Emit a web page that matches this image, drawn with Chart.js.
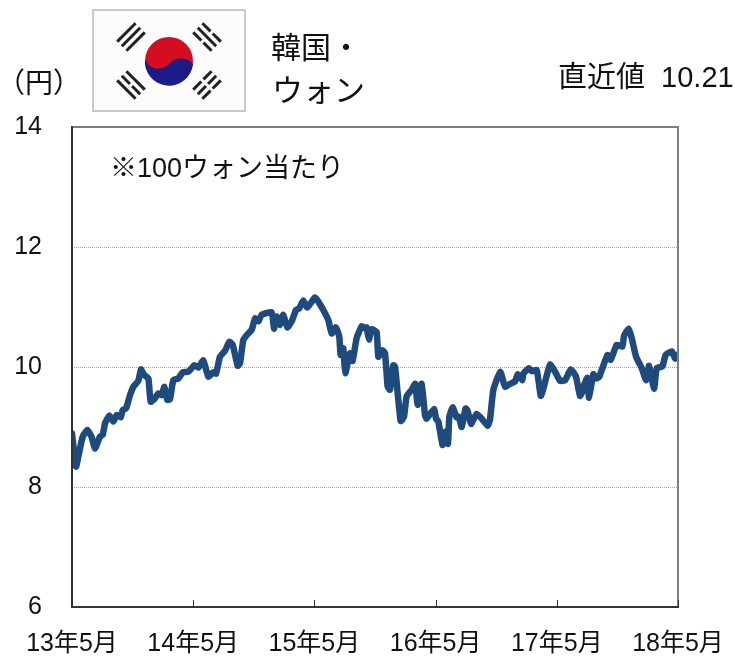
<!DOCTYPE html>
<html lang="ja">
<head>
<meta charset="utf-8">
<script src="https://cdn.jsdelivr.net/npm/chart.js@4"></script>
<style>
  html, body { margin: 0; padding: 0; background: #fff; }
  #wrap { position: relative; width: 735px; height: 657px; overflow: hidden; font-family: "Liberation Sans", "Noto Sans CJK JP", sans-serif; color: #111; }
  #wrap canvas { position: absolute; left: 0; top: 0; }
  .lbl { position: absolute; white-space: pre; line-height: 1; }
  #flag { position: absolute; left: 92px; top: 9px; }
</style>
</head>
<body>
<div id="wrap">
  <canvas id="chart" width="735" height="657"></canvas>
  <svg id="flag" width="154" height="103" viewBox="0 0 154 103">
    <defs><filter id="soft"><feGaussianBlur stdDeviation="0.5"/></filter></defs>
    <rect x="1" y="1" width="152" height="101" fill="#fbfbfb" stroke="#c9c9c9" stroke-width="2"/>
    <g filter="url(#soft)">
      <circle cx="77" cy="52" r="24" fill="#d40f22"/>
      <path d="M53 50 C58 62 70 62 78 54 C85 47 96 48 101 55 A24 24 0 0 1 53 50 Z" fill="#1d1a86"/>
      <g stroke="#222" stroke-width="3" fill="none">
        <g transform="translate(39 28) rotate(-45)"><path d="M-13 -6.5H13M-13 0H13M-13 6.5H13"/></g>
        <g transform="translate(115 28) rotate(45)"><path d="M-13 -6.5H-1.5M1.5 -6.5H13M-13 0H13M-13 6.5H-1.5M1.5 6.5H13"/></g>
        <g transform="translate(39 76) rotate(45)"><path d="M-13 -6.5H13M-13 0H-1.5M1.5 0H13M-13 6.5H13"/></g>
        <g transform="translate(115 76) rotate(-45)"><path d="M-13 -6.5H-1.5M1.5 -6.5H13M-13 0H-1.5M1.5 0H13M-13 6.5H-1.5M1.5 6.5H13"/></g>
      </g>
    </g>
  </svg>
  <div class="lbl" style="left:-3px;top:70px;font-size:28px">（円）</div>
  <div class="lbl" style="left:271px;top:33px;font-size:30px">韓国・</div>
  <div class="lbl" style="left:272px;top:75px;font-size:31px">ウォン</div>
  <div class="lbl" style="left:558px;top:63px;font-size:29px">直近値  10.21</div>
  <div class="lbl" style="left:110px;top:155px;font-size:27px">※100ウォン当たり</div>
</div>
<script>
const FONT = '"Liberation Sans", "Noto Sans CJK JP", sans-serif';

const xTickLabels = ["13年5月", "14年5月", "15年5月", "16年5月", "17年5月", "18年5月"];
const yTickValues = [6, 8, 10, 12, 14];

// months since 13年5月
const months = [
  0, 0.4, 0.63, 1.06, 1.52, 1.95, 2.28, 2.77, 3.04, 3.27, 3.7, 4.09, 4.42, 4.82, 5.02, 5.35,
  5.74, 6.07, 6.57, 6.83, 7.13, 7.56, 7.79, 8.22, 8.55, 8.88, 9.14, 9.44, 9.7, 10.03, 10.53, 10.96,
  11.52, 12.11, 12.51, 13, 13.5, 13.99, 14.26, 14.65, 15.15, 15.58, 15.91, 16.4, 16.63, 16.96, 17.29, 17.79,
  18.12, 18.45, 18.78, 19.77, 20, 20.26, 20.59, 20.92, 21.32, 21.75, 22.18, 22.51, 22.9, 23.3, 24.06, 24.39,
  24.88, 25.38, 25.71, 26.13, 26.46, 26.6, 26.86, 27.06, 27.52, 27.78, 28.18, 28.68, 29, 29.17, 29.4, 29.67,
  30.16, 30.33, 30.72, 30.99, 31.25, 31.48, 31.81, 31.98, 32.54, 32.87, 33.13, 33.63, 33.99, 34.22, 34.62, 34.95,
  35.11, 35.84, 36.04, 36.27, 36.69, 36.93, 37.22, 37.36, 37.69, 38.08, 38.31, 38.58, 38.97, 39.17, 39.5, 40.06,
  40.56, 41.15, 41.38, 41.72, 42.4, 42.88, 43.37, 43.87, 44.13, 44.59, 44.69, 45.25, 45.52, 46.01, 46.41, 46.67,
  47.33, 47.83, 48.32, 48.82, 49.38, 49.9, 50.3, 50.63, 50.7, 51.03, 51.19, 51.62, 51.95, 52.21, 53.01, 53.34,
  53.93, 54.49, 54.66, 55.12, 55.42, 55.85, 56.41, 56.84, 57.13, 57.63, 57.89, 58.45, 58.78, 59.38, 59.71, 60
];
const rates = [
  8.89, 8.34, 8.51, 8.84, 8.95, 8.83, 8.64, 8.84, 8.87, 9.06, 9.19, 9.09, 9.2, 9.16, 9.28, 9.31,
  9.53, 9.67, 9.77, 9.96, 9.87, 9.81, 9.42, 9.48, 9.56, 9.53, 9.67, 9.45, 9.46, 9.78, 9.81, 9.91,
  9.92, 10.03, 9.99, 10.11, 9.84, 9.91, 9.89, 10.17, 10.27, 10.42, 10.37, 10.02, 10.06, 10.45, 10.53, 10.62,
  10.81, 10.76, 10.87, 10.91, 10.64, 10.84, 10.7, 10.87, 10.66, 10.76, 10.95, 10.98, 11.11, 10.99, 11.16, 11.09,
  10.95, 10.78, 10.56, 10.66, 10.51, 10.2, 10.31, 9.9, 10.23, 10.1, 10.48, 10.68, 10.65, 10.66, 10.46, 10.63,
  10.58, 10.17, 10.28, 10.23, 9.68, 9.62, 10.03, 10.01, 9.1, 9.17, 9.51, 9.62, 9.72, 9.37, 9.72, 9.2,
  9.14, 9.3, 9.14, 9.09, 8.7, 8.92, 8.72, 9.17, 9.33, 9.16, 9.17, 9, 9.31, 9.27, 9.05, 9.22,
  9.14, 9.02, 9.12, 9.62, 9.92, 9.67, 9.72, 9.76, 9.88, 9.78, 9.89, 9.98, 9.93, 9.95, 9.52, 9.64,
  10.04, 9.92, 9.77, 9.78, 9.96, 9.84, 9.52, 9.62, 9.7, 9.82, 9.49, 9.88, 9.81, 9.84, 10.2, 10.12,
  10.37, 10.34, 10.52, 10.64, 10.48, 10.17, 9.98, 9.78, 10.02, 9.64, 9.98, 10.01, 10.2, 10.26, 10.14, 10.21
];

// box round the plot and the short inward ticks on the x axis
const framePlugin = {
  id: "frame",
  afterDatasetsDraw(chart) {
    const { ctx, chartArea: a, scales } = chart;
    ctx.save();
    ctx.lineWidth = 2;
    ctx.strokeStyle = "#7f7f7f";
    ctx.beginPath();
    ctx.moveTo(a.left, a.top);
    ctx.lineTo(a.right, a.top);
    ctx.lineTo(a.right, a.bottom);
    ctx.stroke();
    ctx.strokeStyle = "#333";
    ctx.beginPath();
    ctx.moveTo(a.left, a.top - 1);
    ctx.lineTo(a.left, a.bottom);
    ctx.lineTo(a.right + 1, a.bottom);
    ctx.stroke();
    ctx.lineWidth = 1;
    xTickLabels.forEach((_, i) => {
      const x = Math.round(scales.x.getPixelForValue(i * 12)) + 0.5;
      ctx.beginPath();
      ctx.moveTo(x, a.bottom);
      ctx.lineTo(x, a.bottom - 7);
      ctx.stroke();
    });
    ctx.restore();
  },
};

new Chart(document.getElementById("chart").getContext("2d"), {
  type: "line",
  data: {
    datasets: [{
      data: months.map((m, i) => ({ x: m, y: rates[i] })),
      borderColor: "#1f4a7e",
      borderWidth: 6.5,
      borderJoinStyle: "round",
      borderCapStyle: "round",
      pointRadius: 0,
      tension: 0.15,
    }],
  },
  options: {
    responsive: false,
    animation: false,
    layout: { padding: { top: 127, right: 57, bottom: 0, left: 0 } },
    plugins: { legend: { display: false }, tooltip: { enabled: false } },
    scales: {
      x: {
        type: "linear",
        min: 0,
        max: 60,
        afterBuildTicks: (s) => { s.ticks = xTickLabels.map((_, i) => ({ value: i * 12 })); },
        afterFit: (s) => { s.height = 50; s.paddingLeft = 0; s.paddingRight = 0; },
        grid: { display: false },
        border: { display: false },
        ticks: {
          callback: (v) => xTickLabels[v / 12],
          color: "#111",
          font: { family: FONT, size: 25 },
          maxRotation: 0,
          padding: 14,
        },
      },
      y: {
        min: 6,
        max: 14,
        afterBuildTicks: (s) => { s.ticks = yTickValues.map((v) => ({ value: v })); },
        afterFit: (s) => { s.width = 72; },
        grid: {
          drawTicks: false,
          color: (c) => (c.tick && (c.tick.value === 6 || c.tick.value === 14) ? "transparent" : "#a6a6a6"),
          lineWidth: 1,
        },
        border: { display: false, dash: [1, 1] },
        ticks: {
          color: "#111",
          font: { family: FONT, size: 25 },
          padding: 30,
        },
      },
    },
  },
  plugins: [framePlugin],
});
</script>
</body>
</html>
